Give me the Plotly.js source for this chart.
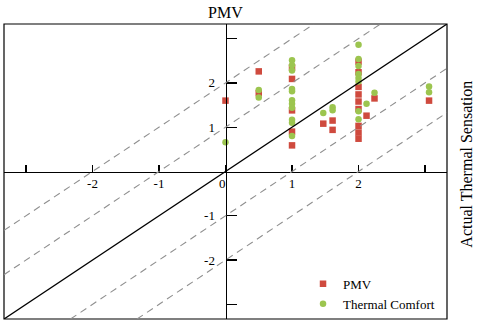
<!DOCTYPE html>
<html>
<head>
<meta charset="utf-8">
<script src="https://cdn.plot.ly/plotly-3.0.1.min.js"></script>
<style>
  html, body { margin: 0; padding: 0; background: #fff; }
  #chart { width: 480px; height: 325px; }
</style>
</head>
<body>
<div id="chart"></div>
<script>
// PMV vs actual thermal sensation
const pmvX = [0, 0.5, 0.5, 1, 1, 1, 1, 1, 1.47, 1.61, 1.61,
              2, 2, 2, 2, 2, 2, 2, 2, 2, 2.12, 2.24, 3.06];
const pmvY = [1.60, 2.26, 1.77, 2.35, 2.09, 1.38, 0.90, 0.59, 1.08, 1.15, 0.94,
              2.48, 2.24, 1.91, 1.74, 1.58, 1.41, 1.03, 0.88, 0.74, 1.26, 1.65, 1.60];

const tcX = [0, 0.5, 0.5, 1, 1, 1, 1, 1, 1, 1, 1, 1, 1, 1, 1.47, 1.61, 1.61,
             2, 2, 2, 2, 2, 2, 2, 2, 2.12, 2.24, 3.06, 3.06];
const tcY = [0.66, 1.84, 1.67, 2.51, 2.40, 2.28, 1.86, 1.81, 1.61, 1.53, 1.44, 1.17, 1.10, 0.80,
             1.32, 1.45, 1.38, 2.86, 2.54, 2.38, 2.20, 2.11, 2.03, 1.36, 1.18, 1.53, 1.78, 1.92, 1.79];

const tickVals = [-3, -2, -1, 0, 1, 2, 3];
const xTickText = ['', '-2', '-1', '0\u00a0\u00a0', '1', '2', ''];
const yTickVals = [-3, -2, -1, 1, 2, 3];
const yTickText = ['', '-2', '-1', '1', '2', ''];
const bandOffsets = [-2, -1, 1, 2];

const R = 3.33;
const serif = '"Liberation Serif", "Times New Roman", serif';

const shapes = [
    { type: 'rect', xref: 'paper', yref: 'paper', x0: 0, y0: 0, x1: 1, y1: 1,
      line: { color: '#000', width: 1.2 } },
    { type: 'line', x0: -R, y0: -R, x1: R, y1: R, line: { color: '#000', width: 1.3 } }
];
bandOffsets.forEach(d => {
    shapes.push({
        type: 'line',
        x0: d > 0 ? -R : -R - d, y0: d > 0 ? -R + d : -R,
        x1: d > 0 ? R - d : R,   y1: d > 0 ? R : R + d,
        line: { color: '#8f8f8f', width: 1.1, dash: '7px,5px' }
    });
});

const traces = [
    { x: pmvX, y: pmvY, type: 'scatter', mode: 'markers', name: 'PMV',
      marker: { symbol: 'square', size: 6.5, color: '#cf4a3e' } },
    { x: tcX, y: tcY, type: 'scatter', mode: 'markers', name: 'Thermal Comfort',
      marker: { symbol: 'circle', size: 6.5, color: '#9cc54f' } }
];

const layout = {
    width: 480, height: 325,
    margin: { l: 4, r: 33, t: 24, b: 6 },
    paper_bgcolor: '#fff', plot_bgcolor: '#fff',
    font: { family: serif, size: 13, color: '#000' },
    showlegend: true,
    legend: { x: 0.675, y: 0.17, xanchor: 'left', yanchor: 'top',
              font: { family: serif, size: 13, color: '#000' },
              bgcolor: 'rgba(0,0,0,0)', tracegroupgap: 0, itemwidth: 30 },
    xaxis: {
        range: [-R, R], anchor: 'free', position: 0.5,
        showgrid: false, zeroline: false,
        showline: true, linecolor: '#000', linewidth: 1.3,
        tickmode: 'array', tickvals: tickVals, ticktext: xTickText,
        ticks: 'inside', ticklen: 7, tickcolor: '#000', tickwidth: 1.2,
        tickfont: { family: serif, size: 13 }
    },
    yaxis: {
        range: [-R, R], anchor: 'free', position: 0.5,
        showgrid: false, zeroline: false,
        showline: true, linecolor: '#000', linewidth: 1.3,
        tickmode: 'array', tickvals: yTickVals, ticktext: yTickText,
        ticks: 'inside', ticklen: 10, tickcolor: '#000', tickwidth: 1.2,
        ticklabelstandoff: 8,
        tickfont: { family: serif, size: 13 }
    },
    shapes: shapes,
    annotations: [
        { text: 'PMV', xref: 'paper', yref: 'paper', x: 0.5, y: 1,
          xanchor: 'center', yanchor: 'bottom', yshift: 1, showarrow: false,
          font: { family: serif, size: 16, color: '#000' } },
        { text: 'Actual Thermal Sensation', xref: 'paper', yref: 'paper', x: 1, y: 0.525,
          xanchor: 'left', yanchor: 'middle', xshift: 9, textangle: -90, showarrow: false,
          font: { family: serif, size: 16, color: '#000' } }
    ]
};

Plotly.newPlot('chart', traces, layout, { displayModeBar: false, staticPlot: true });
</script>
</body>
</html>
